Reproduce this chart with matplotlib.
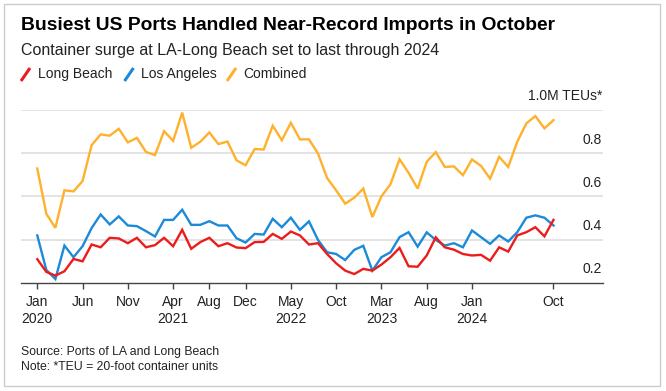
#!/usr/bin/env python3
"""
LA / Long Beach monthly container imports, Jan 2020 - Oct 2024
"""

import matplotlib
matplotlib.use('Agg')
import matplotlib.pyplot as plt
from matplotlib.lines import Line2D
from matplotlib.patches import Rectangle
import numpy as np

# Monthly imports, million TEUs, Jan 2020 .. Oct 2024
long_beach = [0.309, 0.250, 0.233, 0.253, 0.310, 0.299, 0.377, 0.364, 0.408, 0.405,
              0.383, 0.408, 0.364, 0.374, 0.408, 0.369, 0.445, 0.357, 0.388, 0.408,
              0.369, 0.383, 0.363, 0.360, 0.388, 0.389, 0.426, 0.403, 0.437, 0.419,
              0.377, 0.383, 0.333, 0.290, 0.256, 0.240, 0.264, 0.256, 0.284, 0.318,
              0.361, 0.276, 0.274, 0.326, 0.410, 0.364, 0.353, 0.333, 0.326, 0.329,
              0.302, 0.364, 0.344, 0.419, 0.434, 0.457, 0.415, 0.491]
los_angeles = [0.419, 0.259, 0.217, 0.372, 0.318, 0.369, 0.453, 0.516, 0.470, 0.507,
               0.465, 0.462, 0.439, 0.414, 0.491, 0.491, 0.538, 0.468, 0.468, 0.485,
               0.465, 0.465, 0.406, 0.386, 0.426, 0.423, 0.496, 0.457, 0.501, 0.445,
               0.484, 0.398, 0.341, 0.333, 0.305, 0.352, 0.371, 0.256, 0.318, 0.341,
               0.411, 0.434, 0.367, 0.433, 0.398, 0.372, 0.383, 0.364, 0.442, 0.411,
               0.380, 0.419, 0.391, 0.434, 0.501, 0.512, 0.501, 0.465]
combined = [0.729, 0.519, 0.454, 0.628, 0.623, 0.671, 0.837, 0.887, 0.881, 0.913,
            0.850, 0.871, 0.806, 0.791, 0.902, 0.857, 0.988, 0.825, 0.853, 0.896,
            0.842, 0.854, 0.767, 0.744, 0.819, 0.817, 0.927, 0.860, 0.941, 0.864,
            0.864, 0.798, 0.685, 0.628, 0.566, 0.594, 0.636, 0.504, 0.600, 0.656,
            0.772, 0.709, 0.636, 0.760, 0.805, 0.736, 0.739, 0.698, 0.771, 0.741,
            0.682, 0.783, 0.736, 0.853, 0.938, 0.972, 0.915, 0.953]

# x tick positions are month offsets from Jan 2020
tick_months = [0, 5, 10, 15, 19, 23, 28, 33, 38, 43, 48, 57]
tick_labels = ['Jan\n2020', 'Jun', 'Nov', 'Apr\n2021', 'Aug', 'Dec', 'May\n2022',
               'Oct', 'Mar\n2023', 'Aug', 'Jan\n2024', 'Oct']
y_levels = [0.2, 0.4, 0.6, 0.8, 1.0]
y_labels = ['0.2', '0.4', '0.6', '0.8', '1.0M TEUs*']

RED = '#ec1c1c'
BLUE = '#1b8ad8'
ORANGE = '#ffb12b'

W, H = 666, 391


def fx(px):
    return px / W


def fy(py):
    return 1 - py / H


def main():
    plt.rcParams['font.family'] = ['Liberation Sans', 'DejaVu Sans']

    fig = plt.figure(figsize=(W / 100, H / 100), dpi=100)

    # plot area: left 20.7px, right 603px, top gridline 110px, axis 282.7px
    ax = fig.add_axes([fx(20.7), fy(282.7), fx(603.3) - fx(20.7), fy(110) - fy(282.7)])
    x = np.arange(len(combined))

    ax.plot(x, combined, color=ORANGE, lw=1.7, solid_joinstyle='miter', zorder=3)
    ax.plot(x, los_angeles, color=BLUE, lw=1.7, solid_joinstyle='miter', zorder=4)
    ax.plot(x, long_beach, color=RED, lw=1.7, solid_joinstyle='miter', zorder=5)

    ax.set_xlim(-1.83, 62.5)
    ax.set_ylim(0.2, 1.0)

    for s in ['top', 'right', 'left']:
        ax.spines[s].set_visible(False)
    ax.spines['bottom'].set_color('#444444')
    ax.spines['bottom'].set_linewidth(1.0)

    # gridlines + labels sitting above them on the right
    for lv, lab in zip(y_levels, y_labels):
        if lv > 0.2:
            ax.axhline(lv, color='#dedede', lw=1.2, zorder=1)
        ax.annotate(lab, xy=(1.0, lv), xycoords=('axes fraction', 'data'),
                    xytext=(-1, 9.8), textcoords='offset points',
                    ha='right', va='center', fontsize=10, color='#222222')
    ax.set_yticks([])

    ax.set_xticks(tick_months)
    ax.set_xticklabels(tick_labels, fontsize=10, color='#222222', linespacing=1.25)
    ax.tick_params(axis='x', direction='out', length=4, width=1.0, color='#444444', pad=5)

    # title / subtitle
    fig.text(fx(20.7), fy(25), 'Busiest US Ports Handled Near-Record Imports in October',
             fontsize=13.9, fontweight='bold', ha='left', va='center', color='#000000')
    fig.text(fx(20.7), fy(50), 'Container surge at LA-Long Beach set to last through 2024',
             fontsize=11.5, ha='left', va='center', color='#222222')

    # legend with slanted markers
    legend = [('Long Beach', RED, 21.0), ('Los Angeles', BLUE, 124.5), ('Combined', ORANGE, 227.0)]
    for name, col, x0 in legend:
        fig.add_artist(Line2D([fx(x0), fx(x0 + 9)], [fy(81), fy(68)], color=col, lw=2.2,
                              transform=fig.transFigure, solid_capstyle='butt'))
        fig.text(fx(x0 + 16.5), fy(74), name, fontsize=10, ha='left', va='center', color='#222222')

    # footnotes
    fig.text(fx(20.7), fy(351.7), 'Source: Ports of LA and Long Beach',
             fontsize=8.8, ha='left', va='center', color='#222222')
    fig.text(fx(20.7), fy(366.7), 'Note: *TEU = 20-foot container units',
             fontsize=8.8, ha='left', va='center', color='#222222')

    # outer frame
    fig.add_artist(Rectangle((fx(4), fy(386)), fx(660) - fx(4), fy(3.5) - fy(386),
                             transform=fig.transFigure, fill=False, edgecolor='#cccccc', lw=1.0))

    fig.savefig('out.png', dpi=100)


if __name__ == '__main__':
    main()
